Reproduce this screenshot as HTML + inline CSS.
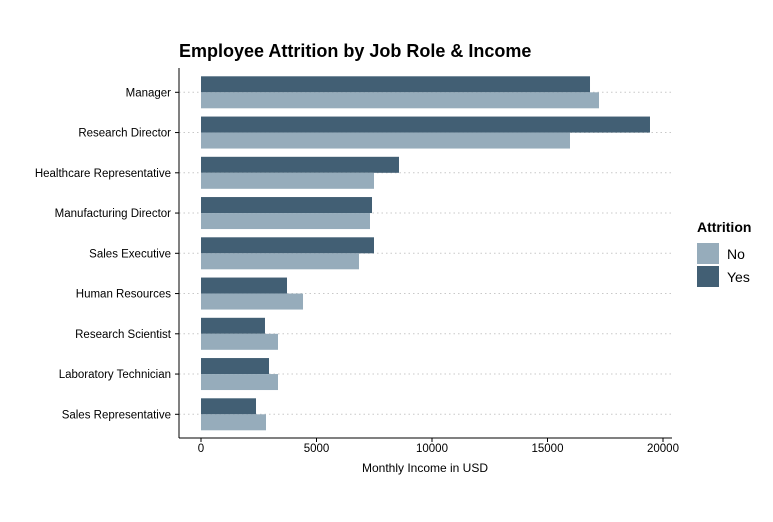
<!DOCTYPE html>
<html><head><meta charset="utf-8"><style>
body{margin:0;background:#fff;font-family:"Liberation Sans",Arial,sans-serif}
svg text{font-family:"Liberation Sans",Arial,sans-serif}
</style></head><body>
<svg id="chart" width="773" height="517" xmlns="http://www.w3.org/2000/svg">
<rect width="773" height="517" fill="#fff"/>
<text x="179" y="57" font-size="18" font-weight="bold" fill="#000">Employee Attrition by Job Role &amp; Income</text>
<g id="grid"></g><g id="bars"></g><g id="axes"></g>
<text x="425" y="472" font-size="12" text-anchor="middle" fill="#000">Monthly Income in USD</text>
<g>
<text x="697" y="232" font-size="14" font-weight="bold">Attrition</text>
<rect x="697" y="243" width="22" height="21" fill="#96acbb"/>
<text x="727" y="259" font-size="14">No</text>
<rect x="697" y="266" width="22" height="21" fill="#425f74"/>
<text x="727" y="282" font-size="14">Yes</text>
</g>
</svg>
<script>
const roles=["Manager","Research Director","Healthcare Representative","Manufacturing Director","Sales Executive","Human Resources","Research Scientist","Laboratory Technician","Sales Representative"];
const yesValues=[16840,19437,8571,7403,7489,3723,2770,2944,2381];
const noValues=[17230,15974,7489,7316,6840,4416,3333,3333,2814];
const xTicks=[0,5000,10000,15000,20000];
const NS="http://www.w3.org/2000/svg";
const x=v=>201+v*462/20000;
const y=i=>92.3+i*40.25;
function mk(tag,attrs,parent){const e=document.createElementNS(NS,tag);for(const k in attrs)e.setAttribute(k,attrs[k]);parent.appendChild(e);return e;}
const grid=document.getElementById('grid'),bars=document.getElementById('bars'),axes=document.getElementById('axes');
roles.forEach((r,i)=>{
  const g=mk('line',{x1:179,x2:672,y1:y(i),y2:y(i),stroke:'#c8c8c8','stroke-dasharray':'1.5 3'},grid);
  
  
  const by=mk('rect',{x:x(0),y:y(i)-16,width:x(yesValues[i])-x(0),height:16,fill:'#425f74'},bars);
  
  
  const bn=mk('rect',{x:x(0),y:y(i),width:x(noValues[i])-x(0),height:16,fill:'#96acbb'},bars);
  
  
  const t=mk('line',{x1:175,x2:179,y1:y(i),y2:y(i),stroke:'#000'},axes);
  
  
  const l=mk('text',{x:171,y:y(i)+4,'font-size':11.5,'text-anchor':'end',fill:'#000'},axes);
  l.textContent=r;
  
  
});
const ya=mk('line',{x1:179,x2:179,y1:68,y2:438,stroke:'#000'},axes);


const xa=mk('line',{x1:179,x2:672,y1:438,y2:438,stroke:'#000'},axes);


xTicks.forEach(v=>{
  const t=mk('line',{x1:x(v),x2:x(v),y1:438,y2:442,stroke:'#000'},axes);
  
  
  const l=mk('text',{x:x(v),y:452,'font-size':11.5,'text-anchor':'middle',fill:'#000'},axes);
  l.textContent=v;
  
  
});
</script>
</body></html>
